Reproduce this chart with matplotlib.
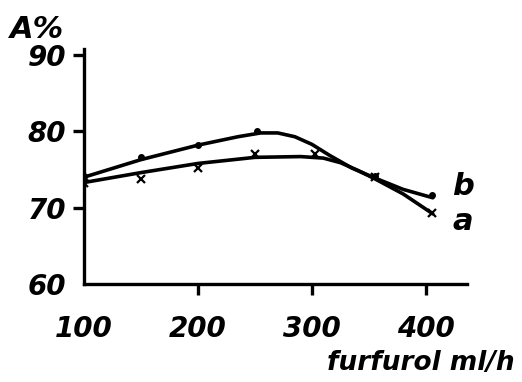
import matplotlib
matplotlib.use("Agg")
from matplotlib import pyplot as plt

# furfurol flow (ml/h) -> A%
# markers
a_x = [100, 150, 200, 250, 303, 355, 405]
a_y = [73.2, 73.7, 75.2, 77.1, 77.1, 74.0, 69.3]
b_x = [100, 150, 200, 252, 355, 405]
b_y = [74.1, 76.6, 78.2, 80.1, 74.2, 71.6]

# hand drawn curves, read at a few positions
a_cx = [100, 150, 200, 250, 290, 310, 325, 340, 355, 380, 406]
a_cy = [73.3, 74.6, 75.8, 76.6, 76.7, 76.5, 75.9, 74.9, 73.8, 71.8, 69.2]
b_cx = [100, 150, 200, 235, 255, 270, 285, 300, 315, 335, 355, 380, 406]
b_cy = [74.0, 76.3, 78.2, 79.3, 79.8, 79.8, 79.3, 78.3, 76.9, 75.2, 73.9, 72.4, 71.3]

x_ticks = [100, 200, 300, 400]
y_ticks = [60, 70, 80, 90]

plt.rcParams['font.family'] = ['DejaVu Sans']

fig = plt.figure(figsize=(5.22, 3.82), dpi=100)
ax = fig.add_axes([84 / 522, 1 - 284 / 382, 383 / 522, 235 / 382])

ax.plot(a_cx, a_cy, color='black', lw=2.6, solid_capstyle='round', solid_joinstyle='round')
ax.plot(b_cx, b_cy, color='black', lw=2.6, solid_capstyle='round', solid_joinstyle='round')
ax.plot(a_x, a_y, 'x', color='black', ms=6, mew=1.6)
ax.plot(b_x, b_y, 'o', color='black', ms=4)

ax.set_xlim(100, 436)
ax.set_ylim(60, 90.8)
for s in ['top', 'right']:
    ax.spines[s].set_visible(False)
for s in ['left', 'bottom']:
    ax.spines[s].set_linewidth(2.4)

ax.set_xticks(x_ticks)
ax.set_yticks(y_ticks)
ax.tick_params(axis='both', length=8, width=2.4, labelsize=20)
ax.tick_params(axis='x', pad=14)
ax.tick_params(axis='y', pad=5)
ax.xaxis.get_major_ticks()[0].tick1line.set_visible(False)
ax.yaxis.get_major_ticks()[0].tick1line.set_visible(False)
for lab in ax.get_xticklabels() + ax.get_yticklabels():
    lab.set_style('italic')
    lab.set_weight('bold')

fig.text(10 / 522, 1 - 38 / 382, 'A%', fontsize=22, style='italic', weight='bold')
fig.text(452 / 522, 1 - 195 / 382, 'b', fontsize=22, style='italic', weight='bold')
fig.text(452 / 522, 1 - 230 / 382, 'a', fontsize=22, style='italic', weight='bold')
fig.text(515 / 522, 1 - 370 / 382, 'furfurol ml/h', fontsize=19, style='italic',
         weight='bold', ha='right')

fig.savefig('out.png', dpi=100)
